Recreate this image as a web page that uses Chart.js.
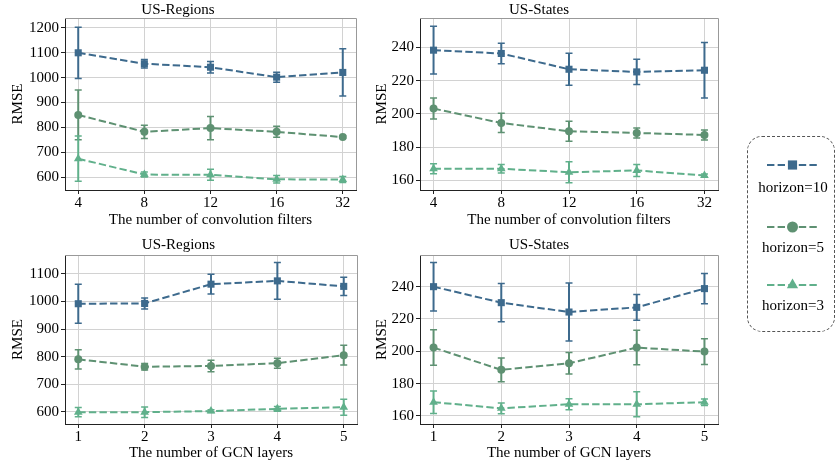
<!DOCTYPE html>
<html>
<head>
<meta charset="utf-8">
<script src="https://cdn.jsdelivr.net/npm/chart.js@4"></script>
<style>
  body { margin: 0; background: #fff; width: 835px; height: 466px; overflow: hidden; position: relative; font-family: "Liberation Serif", serif; }
  canvas.panel { position: absolute; }
  #legendBox { position: absolute; left: 747px; top: 136px; width: 88px; height: 196px; border: 1.3px dashed #555; border-radius: 15px; box-sizing: border-box; }
  #legendSamples { position: absolute; left: 760px; top: 150px; }
  .name { position: absolute; left: 747px; width: 92px; text-align: center; font-size: 15px; line-height: 18px; color: #000; white-space: nowrap; }
</style>
</head>
<body>
<canvas id="c1" class="panel"></canvas>
<canvas id="c2" class="panel"></canvas>
<canvas id="c3" class="panel"></canvas>
<canvas id="c4" class="panel"></canvas>
<div id="legendBox"></div>
<canvas id="legendSamples" width="70" height="150"></canvas>
<script>
// CATEGORIES
const filterLabels = ['4', '8', '12', '16', '32'];
const layerLabels = ['1', '2', '3', '4', '5'];
const horizons = ['horizon=10', 'horizon=5', 'horizon=3'];

// TICKS
const regionFilterTicks = [600, 700, 800, 900, 1000, 1100, 1200];
const regionLayerTicks = [600, 700, 800, 900, 1000, 1100];
const stateTicks = [160, 180, 200, 220, 240];

// US-Regions, convolution filters
const regFilterH10 = [1100, 1056, 1042, 1002, 1021];
const regFilterH10Err = [103, 17, 23, 20, 95];
const regFilterH5 = [850, 782, 797, 782, 761];
const regFilterH5Err = [100, 27, 47, 22, 5];
const regFilterH3 = [674, 610, 609, 591, 590];
const regFilterH3Err = [91, 10, 22, 15, 12];

// US-States, convolution filters
const stFilterH10 = [238.4, 236.4, 226.9, 225.3, 226.3];
const stFilterH10Err = [14.4, 6.2, 9.6, 7.6, 16.7];
const stFilterH5 = [203.2, 194.5, 189.5, 188.5, 187.3];
const stFilterH5Err = [6.3, 5.8, 6, 3, 3];
const stFilterH3 = [166.9, 166.9, 164.8, 165.9, 162.8];
const stFilterH3Err = [3, 2.6, 6.3, 3.6, 1];

// US-Regions, GCN layers
const regLayerH10 = [992, 993, 1063, 1075, 1055];
const regLayerH10Err = [71, 20, 36, 67, 33];
const regLayerH5 = [790, 763, 766, 776, 805];
const regLayerH5Err = [35, 12, 21, 18, 36];
const regLayerH3 = [598, 598, 602, 610, 616];
const regLayerH3Err = [17, 19, 5, 9, 29];

// US-States, GCN layers
const stLayerH10 = [240, 230.1, 224.3, 227.2, 238.8];
const stLayerH10Err = [15, 11.8, 18, 8, 9.3];
const stLayerH5 = [202.3, 188.5, 192.6, 202.3, 199.8];
const stLayerH5Err = [11, 7.4, 6.6, 10.7, 8];
const stLayerH3 = [168.5, 164.7, 167.2, 167.2, 168.5];
const stLayerH3Err = [7, 3.3, 3.4, 7.7, 2];

// STYLE
const colors = ['#3d6a8d', '#5e9172', '#60b08b'];
const markers = ['rect', 'circle', 'triangle'];
const markerRadius = [5, 4, 5];
const dash = [7.4, 3.2];
const serif = 'Liberation Serif';

Chart.defaults.font.family = serif;
Chart.defaults.font.size = 15;
Chart.defaults.color = '#000';

// vertical error bars with caps, under the markers
const errorBars = {
  id: 'errorBars',
  beforeDatasetsDraw(chart) {
    const ctx = chart.ctx;
    const y = chart.scales.y;
    chart.data.datasets.forEach((ds, i) => {
      const meta = chart.getDatasetMeta(i);
      ctx.save();
      ctx.strokeStyle = ds.borderColor;
      meta.data.forEach((pt, j) => {
        const v = ds.data[j].y, e = ds.errors[j];
        const top = y.getPixelForValue(v + e);
        const bot = y.getPixelForValue(v - e);
        ctx.lineWidth = 2;
        ctx.beginPath();
        ctx.moveTo(pt.x, top);
        ctx.lineTo(pt.x, bot);
        ctx.stroke();
        ctx.lineWidth = 1.5;
        ctx.beginPath();
        ctx.moveTo(pt.x - 3.5, top); ctx.lineTo(pt.x + 3.5, top);
        ctx.moveTo(pt.x - 3.5, bot); ctx.lineTo(pt.x + 3.5, bot);
        ctx.stroke();
      });
      ctx.restore();
    });
  }
};

// top and right spines (left/bottom come from the axis borders)
const frame = {
  id: 'frame',
  beforeDatasetsDraw(chart) {
    const { ctx, chartArea: a } = chart;
    ctx.save();
    ctx.strokeStyle = '#999';
    ctx.lineWidth = 1;
    ctx.beginPath();
    ctx.moveTo(a.left, a.top + 0.5);
    ctx.lineTo(a.right + 0.5, a.top + 0.5);
    ctx.lineTo(a.right + 0.5, a.bottom);
    ctx.stroke();
    ctx.restore();
  }
};

function makeSeries(values, errors) {
  return values.map((v, i) => ({
    label: horizons[i],
    data: v.map((y, x) => ({ x, y })),
    errors: errors[i],
    borderColor: colors[i],
    backgroundColor: colors[i],
    borderWidth: 2,
    borderDash: dash,
    pointStyle: markers[i],
    pointRadius: markerRadius[i],
    pointBorderWidth: 0,
    tension: 0
  }));
}

function panel(id, box, p) {
  const canvas = document.getElementById(id);
  canvas.width = box.w;
  canvas.height = box.h;
  canvas.style.left = box.left + 'px';
  canvas.style.top = box.top + 'px';

  const font = { family: serif, size: 15, weight: 'normal' };

  new Chart(canvas, {
    type: 'line',
    data: { datasets: makeSeries(p.values, p.errors) },
    options: {
      responsive: false,
      animation: false,
      devicePixelRatio: 1,
      layout: { padding: { left: 0, right: box.padRight, top: 0, bottom: 0 } },
      plugins: {
        legend: { display: false },
        tooltip: { enabled: false },
        title: { display: true, text: p.title, font, padding: box.titlePad }
      },
      scales: {
        x: {
          type: 'linear',
          min: -0.2,
          max: p.labels.length - 0.8,
          afterBuildTicks: s => { s.ticks = p.labels.map((_, i) => ({ value: i })); },
          afterFit: s => { s.height = box.xHeight; },
          ticks: { padding: 0, font, callback: v => p.labels[v] },
          grid: { color: '#d2d2d2', tickColor: '#222', tickLength: 4 },
          border: { color: '#222', width: 1 },
          title: { display: true, text: p.xTitle, font, padding: 0 }
        },
        y: {
          min: p.yMin,
          max: p.yMax,
          afterBuildTicks: s => { s.ticks = p.yTicks.map(v => ({ value: v })); },
          afterFit: s => { s.width = box.yWidth; },
          ticks: { padding: 2, font, callback: v => String(v) },
          grid: { color: '#d2d2d2', tickColor: '#222', tickLength: 4 },
          border: { color: '#222', width: 1 },
          title: { display: true, text: 'RMSE', font, padding: { top: box.yTitlePad, bottom: 0 } }
        }
      }
    },
    plugins: [frame, errorBars]
  });
}

panel('c1',
  { left: 0, top: 0, w: 365, h: 229, padRight: 9, yWidth: 65, xHeight: 39, yTitlePad: 9, titlePad: { top: 1, bottom: -1 } },
  {
    title: 'US-Regions', labels: filterLabels, xTitle: 'The number of convolution filters',
    yTicks: regionFilterTicks, yMin: 548, yMax: 1240,
    values: [regFilterH10, regFilterH5, regFilterH3],
    errors: [regFilterH10Err, regFilterH5Err, regFilterH3Err]
  });

panel('c2',
  { left: 360, top: 0, w: 365, h: 229, padRight: 7, yWidth: 60, xHeight: 39, yTitlePad: 13, titlePad: { top: 1, bottom: -1 } },
  {
    title: 'US-States', labels: filterLabels, xTitle: 'The number of convolution filters',
    yTicks: stateTicks, yMin: 154.1, yMax: 257.8,
    values: [stFilterH10, stFilterH5, stFilterH3],
    errors: [stFilterH10Err, stFilterH5Err, stFilterH3Err]
  });

panel('c3',
  { left: 0, top: 230, w: 365, h: 232, padRight: 8, yWidth: 65, xHeight: 38, yTitlePad: 9, titlePad: { top: 6, bottom: 1 } },
  {
    title: 'US-Regions', labels: layerLabels, xTitle: 'The number of GCN layers',
    yTicks: regionLayerTicks, yMin: 555, yMax: 1169,
    values: [regLayerH10, regLayerH5, regLayerH3],
    errors: [regLayerH10Err, regLayerH5Err, regLayerH3Err]
  });

panel('c4',
  { left: 360, top: 230, w: 365, h: 232, padRight: 7, yWidth: 60, xHeight: 38, yTitlePad: 13, titlePad: { top: 6, bottom: 1 } },
  {
    title: 'US-States', labels: layerLabels, xTitle: 'The number of GCN layers',
    yTicks: stateTicks, yMin: 155, yMax: 259.6,
    values: [stLayerH10, stLayerH5, stLayerH3],
    errors: [stLayerH10Err, stLayerH5Err, stLayerH3Err]
  });

// LEGEND: one canvas with the three line samples, names below each
const sampleRows = [15, 77, 135];
const nameTops = [178, 238, 296];
const lctx = document.getElementById('legendSamples').getContext('2d');
horizons.forEach((name, i) => {
  const y = sampleRows[i];
  lctx.strokeStyle = colors[i];
  lctx.fillStyle = colors[i];
  lctx.lineWidth = 2;
  lctx.setLineDash(dash);
  lctx.beginPath();
  lctx.moveTo(7, y);
  lctx.lineTo(58, y);
  lctx.stroke();
  lctx.setLineDash([]);
  Chart.helpers.drawPoint(lctx, { pointStyle: markers[i], radius: markerRadius[i] + 1.5, rotation: 0, borderWidth: 0 }, 32.5, y);

  const label = document.createElement('div');
  label.className = 'name';
  label.style.top = nameTops[i] + 'px';
  label.textContent = name;
  document.body.appendChild(label);
});
</script>
</body>
</html>
